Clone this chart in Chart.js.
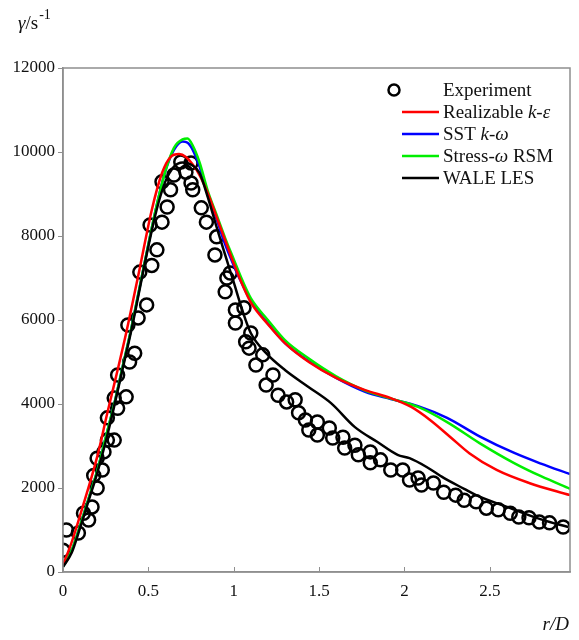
<!DOCTYPE html>
<html>
<head>
<meta charset="utf-8">
<script src="https://cdn.jsdelivr.net/npm/chart.js@4.4.1/dist/chart.umd.min.js"></script>
<style>
  html, body { margin: 0; padding: 0; background: #ffffff; }
  #wrap { width: 579px; height: 640px; position: relative; }
</style>
</head>
<body>
<div id="wrap"><canvas id="c" width="579" height="640"></canvas></div>
<script>
// ---- Data ----
const xTicks = [0, 0.5, 1, 1.5, 2, 2.5];
const yTicks = [0, 2000, 4000, 6000, 8000, 10000, 12000];
const xTickLabels = ['0', '0.5', '1', '1.5', '2', '2.5'];

const expX = [0.00, 0.02, 0.09, 0.12, 0.15, 0.17, 0.18, 0.20, 0.20, 0.23, 0.24, 0.26, 0.26, 0.30, 0.30, 0.32, 0.32, 0.37, 0.38, 0.39, 0.42, 0.44, 0.45, 0.49, 0.51, 0.52, 0.55, 0.58, 0.58, 0.61, 0.63, 0.65, 0.69, 0.72, 0.75, 0.75, 0.76, 0.81, 0.84, 0.89, 0.90, 0.95, 0.96, 0.98, 1.01, 1.01, 1.06, 1.07, 1.09, 1.10, 1.13, 1.17, 1.19, 1.23, 1.26, 1.31, 1.36, 1.38, 1.42, 1.44, 1.49, 1.49, 1.56, 1.58, 1.64, 1.65, 1.71, 1.73, 1.80, 1.80, 1.86, 1.92, 1.99, 2.03, 2.08, 2.10, 2.17, 2.23, 2.30, 2.35, 2.42, 2.48, 2.55, 2.62, 2.67, 2.73, 2.79, 2.85, 2.93];
const expY = [520, 1000, 930, 1400, 1240, 1550, 2300, 2000, 2710, 2430, 2860, 3140, 3670, 3140, 4140, 3900, 4690, 4170, 5880, 5000, 5210, 6050, 7140, 6360, 8260, 7300, 7670, 8330, 9290, 8690, 9100, 9450, 9760, 9520, 9740, 9260, 9100, 8670, 8330, 7550, 7980, 6670, 7000, 7120, 6240, 5930, 6290, 5480, 5330, 5690, 4930, 5170, 4450, 4690, 4210, 4050, 4100, 3790, 3620, 3380, 3570, 3260, 3430, 3190, 3210, 2950, 3020, 2790, 2860, 2600, 2670, 2430, 2430, 2190, 2240, 2070, 2120, 1900, 1830, 1710, 1670, 1520, 1480, 1400, 1310, 1290, 1190, 1170, 1070];

const rkeX = [0, 0.05, 0.11, 0.2, 0.26, 0.31, 0.37, 0.45, 0.52, 0.58, 0.63, 0.68, 0.72, 0.76, 0.8, 0.85, 0.9, 0.95, 1.0, 1.05, 1.1, 1.2, 1.3, 1.44, 1.6, 1.77, 1.92, 2.04, 2.15, 2.27, 2.38, 2.54, 2.73, 2.97];
const rkeY = [170, 700, 1480, 2740, 3790, 4640, 5690, 7240, 8620, 9500, 9880, 9950, 9880, 9700, 9450, 9000, 8450, 7900, 7350, 6850, 6420, 5900, 5450, 5000, 4620, 4330, 4140, 3930, 3620, 3210, 2830, 2430, 2120, 1830];

const sstX = [0, 0.05, 0.1, 0.15, 0.2, 0.25, 0.3, 0.35, 0.4, 0.45, 0.5, 0.55, 0.6, 0.65, 0.7, 0.73, 0.76, 0.8, 0.85, 0.9, 0.95, 1.0, 1.05, 1.1, 1.2, 1.3, 1.44, 1.6, 1.77, 1.92, 2.08, 2.25, 2.44, 2.64, 2.8, 2.97];
const sstY = [130, 500, 1100, 1750, 2400, 3200, 4000, 4900, 5800, 6800, 7800, 8750, 9550, 10050, 10250, 10220, 10050, 9650, 8950, 8400, 7800, 7300, 6850, 6450, 5920, 5450, 5020, 4620, 4290, 4120, 3950, 3670, 3230, 2840, 2580, 2330];

const rsmX = [0, 0.05, 0.1, 0.15, 0.2, 0.25, 0.3, 0.35, 0.4, 0.45, 0.5, 0.55, 0.6, 0.65, 0.7, 0.73, 0.76, 0.8, 0.85, 0.9, 0.95, 1.0, 1.05, 1.1, 1.2, 1.3, 1.44, 1.6, 1.77, 1.92, 2.08, 2.25, 2.44, 2.64, 2.8, 2.97];
const rsmY = [130, 500, 1100, 1750, 2400, 3200, 4000, 4900, 5800, 6800, 7800, 8750, 9550, 10100, 10300, 10320, 10150, 9750, 9050, 8500, 7950, 7450, 6950, 6520, 6000, 5520, 5080, 4660, 4320, 4130, 3930, 3570, 3070, 2600, 2280, 1980];

const lesX = [0, 0.05, 0.1, 0.15, 0.2, 0.25, 0.3, 0.35, 0.4, 0.45, 0.5, 0.55, 0.6, 0.65, 0.7, 0.75, 0.8, 0.85, 0.9, 0.95, 1.0, 1.05, 1.1, 1.19, 1.3, 1.44, 1.57, 1.71, 1.84, 1.96, 2.03, 2.13, 2.23, 2.35, 2.42, 2.62, 2.81, 2.96];
const lesY = [120, 450, 1050, 1700, 2350, 3100, 3950, 4850, 5750, 6750, 7750, 8650, 9300, 9650, 9750, 9700, 9500, 8900, 8210, 7550, 6900, 6240, 5690, 5210, 4810, 4400, 4020, 3450, 3100, 2790, 2710, 2500, 2240, 1980, 1830, 1520, 1240, 1070];

const seriesNames = ['Experiment', 'Realizable k-ε', 'SST k-ω', 'Stress-ω RSM', 'WALE LES'];
const seriesColors = ['#000000', '#ff0000', '#0000ff', '#00ee00', '#000000'];

function pts(xs, ys) { return xs.map((x, i) => ({ x: x, y: ys[i] })); }

const AXIS_GREY = '#8f8f8f';
const SERIF = '"Liberation Serif", "Times New Roman", serif';

// Frame, inward x ticks, legend and axis titles
const decor = {
  id: 'decor',
  afterDraw(chart) {
    const ctx = chart.ctx;
    const a = chart.chartArea;
    const xs = chart.scales.x;
    ctx.save();
    ctx.strokeStyle = AXIS_GREY;
    ctx.lineWidth = 1.5;
    ctx.strokeRect(a.left, a.top, a.right - a.left, a.bottom - a.top);
    // inward x ticks
    ctx.lineWidth = 1;
    xTicks.forEach(v => {
      const px = Math.round(xs.getPixelForValue(v)) + 0.5;
      ctx.beginPath();
      ctx.moveTo(px, a.bottom);
      ctx.lineTo(px, a.bottom - 5);
      ctx.stroke();
    });
    ctx.restore();

    // Legend
    ctx.save();
    ctx.textBaseline = 'middle';
    ctx.textAlign = 'left';
    const rows = [90, 112, 134, 156, 178];
    const lx0 = 402, lx1 = 439, tx = 443;
    const parts = [
      [['Experiment', false]],
      [['Realizable ', false], ['k', true], ['-', false], ['ε', true]],
      [['SST ', false], ['k', true], ['-', false], ['ω', true]],
      [['Stress-', false], ['ω', true], [' RSM', false]],
      [['WALE LES', false]]
    ];
    rows.forEach((y, i) => {
      if (i === 0) {
        ctx.beginPath();
        ctx.arc(394, y, 5.5, 0, Math.PI * 2);
        ctx.lineWidth = 2.5;
        ctx.strokeStyle = '#000';
        ctx.stroke();
      } else {
        ctx.beginPath();
        ctx.moveTo(lx0, y);
        ctx.lineTo(lx1, y);
        ctx.lineWidth = 2.5;
        ctx.strokeStyle = seriesColors[i];
        ctx.stroke();
      }
      let x = tx;
      ctx.fillStyle = '#111';
      parts[i].forEach(([t, it]) => {
        ctx.font = (it ? 'italic ' : '') + '19px ' + SERIF;
        ctx.fillText(t, x, y + 1);
        x += ctx.measureText(t).width;
      });
    });

    // y axis title: γ/s^-1
    ctx.fillStyle = '#111';
    ctx.textBaseline = 'alphabetic';
    let x = 18;
    ctx.font = 'italic 19px ' + SERIF;
    ctx.fillText('γ', x, 29);
    x += ctx.measureText('γ').width;
    ctx.font = '19px ' + SERIF;
    ctx.fillText('/s', x, 29);
    x += ctx.measureText('/s').width + 1;
    ctx.font = '14px ' + SERIF;
    ctx.fillText('-1', x, 19);

    // x axis title: r/D
    ctx.font = 'italic 19px ' + SERIF;
    ctx.textAlign = 'right';
    ctx.fillText('r/D', 569, 630);
    ctx.restore();
  }
};

new Chart(document.getElementById('c'), {
  type: 'scatter',
  data: {
    datasets: [
      { label: seriesNames[0], data: pts(expX, expY), showLine: false, pointStyle: 'circle', pointRadius: 6.5, pointHoverRadius: 6.5, pointBorderWidth: 2.5, pointBorderColor: '#000', pointBackgroundColor: 'rgba(0,0,0,0)', order: 6 },
      { label: seriesNames[2], data: pts(sstX, sstY), showLine: true, borderColor: seriesColors[2], borderWidth: 2.5, pointRadius: 0, cubicInterpolationMode: 'monotone', order: 4 },
      { label: seriesNames[3], data: pts(rsmX, rsmY), showLine: true, borderColor: seriesColors[3], borderWidth: 2.5, pointRadius: 0, cubicInterpolationMode: 'monotone', order: 3 },
      { label: seriesNames[1], data: pts(rkeX, rkeY), showLine: true, borderColor: seriesColors[1], borderWidth: 2.5, pointRadius: 0, cubicInterpolationMode: 'monotone', order: 2 },
      { label: seriesNames[4], data: pts(lesX, lesY), showLine: true, borderColor: seriesColors[4], borderWidth: 2.5, pointRadius: 0, cubicInterpolationMode: 'monotone', order: 1 }
    ]
  },
  options: {
    responsive: false,
    animation: false,
    events: [],
    layout: { padding: { left: 0, right: 5, top: 68, bottom: 28 } },
    plugins: { legend: { display: false }, tooltip: { enabled: false } },
    scales: {
      x: {
        type: 'linear', min: 0, max: 2.97,
        afterBuildTicks(scale) { scale.ticks = xTicks.map(v => ({ value: v })); },
        afterFit(scale) { scale.height = 40; },
        grid: { display: true, drawOnChartArea: false, drawTicks: false },
        border: { display: true, color: AXIS_GREY, width: 1.5 },
        ticks: {
          padding: 9, color: '#111', font: { family: SERIF, size: 17 }, maxRotation: 0, autoSkip: false,
          callback: (v) => { const i = xTicks.indexOf(v); return i >= 0 ? xTickLabels[i] : String(v); }
        }
      },
      y: {
        type: 'linear', min: 0, max: 12000,
        afterBuildTicks(scale) { scale.ticks = yTicks.map(v => ({ value: v })); },
        afterFit(scale) { scale.width = 63; },
        grid: { display: true, drawOnChartArea: false, drawTicks: true, tickLength: 5, color: AXIS_GREY },
        border: { display: true, color: AXIS_GREY, width: 1.5 },
        ticks: { padding: 3, color: '#111', font: { family: SERIF, size: 17 }, callback: v => String(v) }
      }
    }
  },
  plugins: [decor]
});
</script>
</body>
</html>
